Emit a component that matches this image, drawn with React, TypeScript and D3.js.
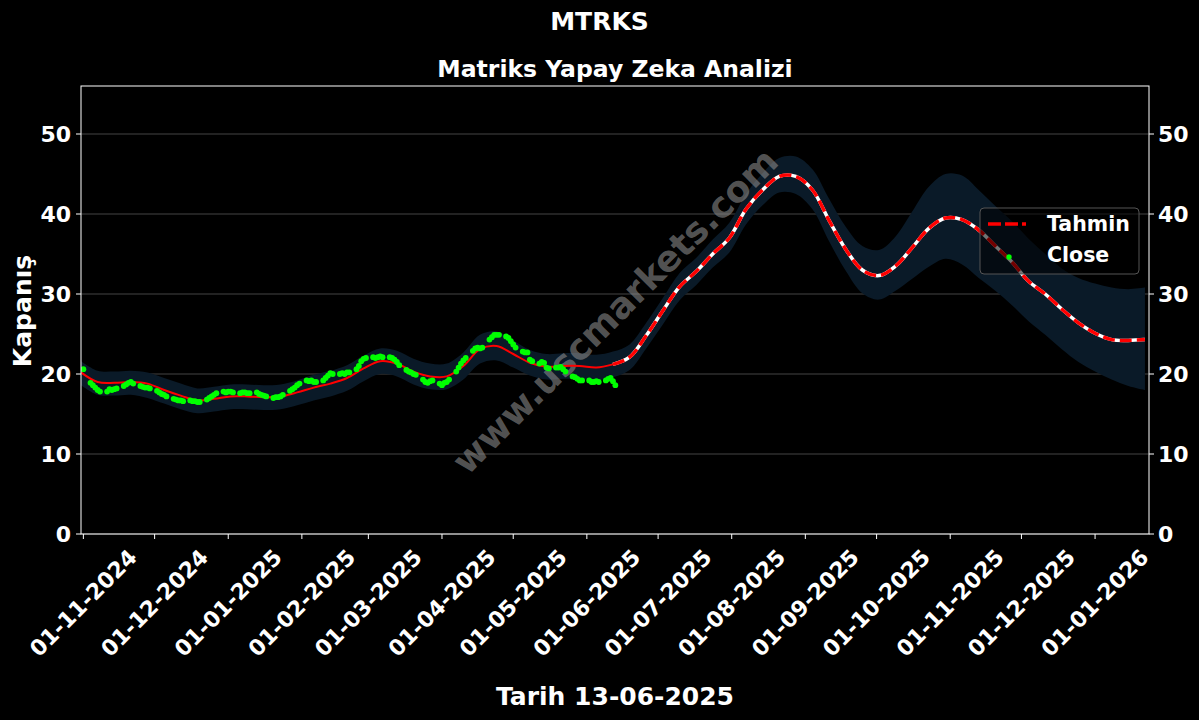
import React from "react";
import * as d3 from "d3";

const W = 1199, H = 720;
const M = { left: 81, right: 1149, top: 86, bottom: 534 };

const title = "MTRKS";
const subtitle = "Matriks Yapay Zeka Analizi";
const xLabel = "Tarih 13-06-2025";
const yLabel = "Kapanış";
const watermark = "www.uscmarkets.com";
const yTicks = [0, 10, 20, 30, 40, 50];

// Close (weekday series from 01-11-2024 to 13-06-2025)
const closeStart = new Date(2024, 10, 1);
const closeEnd = new Date(2025, 5, 13);
const closeVals = [
  20.6, 18.9, 18.6, 18.3, 18.0, 17.8, 17.8, 18.1, 18.0, 18.1, 18.2, 18.5, 18.7, 18.9, 19.0, 18.8, 18.5, 18.4, 18.3, 18.3, 18.2,
  17.9, 17.7, 17.5, 17.4, 17.2, 16.9, 16.8, 16.7, 16.7, 16.6, 16.7, 16.6, 16.6, 16.5, 16.5, 16.8, 17.0, 17.2, 17.4, 17.6, 17.8, 17.7,
  17.8, 17.8, 17.7, 17.6, 17.7, 17.7, 17.6, 17.6, 17.7, 17.5, 17.4, 17.3, 17.2, 17.0, 17.1, 17.1, 17.2, 17.4, 17.9, 18.1, 18.3, 18.6, 18.8,
  19.2, 19.1, 19.2, 19.0, 19.0, 19.2, 19.5, 19.8, 20.1, 20.0, 20.0, 20.1, 20.0, 20.2, 20.2, 20.6, 21.0, 21.6, 21.9, 22.0,
  22.1, 22.0, 22.1, 22.2, 22.1, 22.1, 22.0, 21.8, 21.5, 21.1, 20.5, 20.3, 20.2, 20.0, 19.9, 19.3, 19.0, 18.9, 19.1, 19.2, 18.8,
  18.6, 18.9, 19.0, 19.3, 20.3, 20.8, 21.3, 21.7, 22.0, 22.9, 23.2, 23.3, 23.2, 23.3, 24.3, 24.6, 24.9, 24.9, 24.9, 24.7, 24.5, 24.1,
  23.7, 23.3, 22.8, 22.7, 22.7, 21.8, 21.6, 21.3, 21.5, 21.4, 20.8, 20.7, 20.8, 20.8, 20.9, 20.6, 20.3, 19.7, 19.6, 19.4, 19.2, 19.2,
  19.2, 19.0, 19.0, 19.1, 19.0, 19.2, 19.4, 19.5, 19.1, 18.6,
];

// Tahmin (weekly points from 31-10-2024)
const predStart = new Date(2024, 9, 31);
const predStepDays = 7;
const forecastFromIndex = 32;
const predVals = [
  20.2, 19.0, 18.9, 19.0, 18.8, 18.0, 17.3, 16.7, 16.9, 17.2, 17.2, 17.1, 17.2, 17.7, 18.3, 18.8,
  19.5, 20.7, 21.6, 21.3, 20.3, 19.7, 19.7, 21.0, 23.1, 23.5, 22.5, 21.4, 20.9, 21.0, 21.0, 20.8,
  21.2, 22.1, 24.8, 27.9, 30.9, 32.8, 35.0, 37.0, 40.6, 43.0, 44.7, 44.7, 43.0, 39.2, 35.6, 33.0,
  32.3, 33.5, 35.8, 38.2, 39.5, 39.3, 38.0, 36.0, 34.0, 31.6, 30.0, 28.1, 26.4, 25.1, 24.3, 24.2, 24.3,
];
const upperVals = [
  21.6, 20.4, 20.3, 20.4, 20.2, 19.5, 18.8, 18.2, 18.4, 18.7, 18.7, 18.6, 18.7, 19.2, 19.9, 20.4,
  21.1, 22.3, 23.2, 22.9, 21.9, 21.3, 21.3, 22.7, 24.9, 25.3, 24.2, 23.0, 22.5, 22.6, 22.6, 22.4,
  22.8, 23.7, 26.4, 29.5, 32.6, 34.5, 36.8, 38.9, 42.5, 45.1, 47.0, 47.2, 45.6, 41.9, 38.4, 36.0,
  35.5, 37.2, 40.3, 43.4, 45.0, 44.8, 43.0, 41.0, 39.1, 36.9, 35.0, 33.2, 32.0, 31.3, 30.8, 30.6, 30.8,
];
const lowerVals = [
  18.6, 17.4, 17.3, 17.4, 17.0, 16.3, 15.6, 15.1, 15.3, 15.6, 15.6, 15.5, 15.6, 16.1, 16.7, 17.2,
  17.9, 19.1, 20.0, 19.7, 18.7, 18.1, 18.1, 19.3, 21.3, 21.7, 20.8, 19.8, 19.3, 19.4, 19.4, 19.2,
  19.6, 20.5, 23.2, 26.2, 29.2, 31.1, 33.3, 35.2, 38.7, 41.1, 42.7, 42.5, 40.6, 36.6, 32.9, 30.1,
  29.3, 30.4, 31.9, 33.4, 34.4, 33.7, 32.0, 30.4, 28.6, 26.6, 24.9, 23.1, 21.5, 20.3, 19.3, 18.5, 18.0,
];

const xDomain = [new Date(2024, 9, 31), new Date(2026, 0, 23, 17)];

const fmtTick = d3.timeFormat("%d-%m-%Y");

export default function App() {
  const x = d3.scaleTime().domain(xDomain).range([M.left, M.right]);
  const y = d3.scaleLinear().domain([0, 56]).range([M.bottom, M.top]);

  const closeDates = d3.timeDay
    .range(closeStart, d3.timeDay.offset(closeEnd, 1))
    .filter((d) => d.getDay() !== 0 && d.getDay() !== 6);
  const closePts = closeDates.slice(0, closeVals.length).map((d, i) => ({ d, v: closeVals[i] }));

  const pred = predVals.map((v, i) => ({
    d: d3.timeDay.offset(predStart, i * predStepDays),
    v,
    u: upperVals[i],
    l: lowerVals[i],
  }));

  const line = d3
    .line<any>()
    .x((p) => x(p.d))
    .y((p) => y(p.v))
    .curve(d3.curveCatmullRom);
  const area = d3
    .area<any>()
    .x((p) => x(p.d))
    .y0((p) => y(p.l))
    .y1((p) => y(p.u))
    .curve(d3.curveCatmullRom);

  const hist = pred.slice(0, forecastFromIndex + 1);
  const fut = pred.slice(forecastFromIndex);

  const monthTicks = d3.timeMonth.range(new Date(2024, 10, 1), new Date(2026, 0, 2));

  const font = "'DejaVu Sans', sans-serif";
  const wmX = 615, wmY = 311;

  return (
    <svg
      width={W}
      height={H}
      style={{ position: "absolute", left: 0, top: 0, background: "#000" }}
      fontFamily={font}
      fontWeight="bold"
    >
      <rect x={0} y={0} width={W} height={H} fill="#000" />
      <defs>
        <clipPath id="plot">
          <rect x={M.left} y={M.top} width={M.right - M.left} height={M.bottom - M.top} />
        </clipPath>
      </defs>

      {/* grid */}
      {yTicks.map((t) => (
        <line key={"g" + t} x1={M.left} x2={M.right} y1={y(t)} y2={y(t)} stroke="#555" strokeWidth={0.8} />
      ))}

      <g clipPath="url(#plot)">
        <path d={area(pred) || ""} fill="#0a1a28" />
        <text
          x={wmX}
          y={wmY}
          transform={`rotate(-45 ${wmX} ${wmY})`}
          textAnchor="middle"
          dominantBaseline="central"
          fontSize={36}
          fill="#8a8a8a"
          fillOpacity={0.62}
        >
          {watermark}
        </text>
        <path d={line(hist) || ""} fill="none" stroke="#ff0000" strokeWidth={2} />
        <path d={line(fut) || ""} fill="none" stroke="#ffffff" strokeWidth={3.5} />
        <path d={line(fut) || ""} fill="none" stroke="#ff0000" strokeWidth={3.5} strokeDasharray="12 5" />
        {closePts.map((p, i) => (
          <circle key={i} cx={x(p.d)} cy={y(p.v)} r={2.9} fill="#00ff00" />
        ))}
      </g>

      {/* frame */}
      <rect
        x={M.left}
        y={M.top}
        width={M.right - M.left}
        height={M.bottom - M.top}
        fill="none"
        stroke="#fff"
        strokeWidth={1}
      />

      {/* y ticks both sides */}
      {yTicks.map((t) => (
        <g key={"y" + t}>
          <line x1={M.left - 5} x2={M.left} y1={y(t)} y2={y(t)} stroke="#fff" />
          <text x={M.left - 10} y={y(t)} textAnchor="end" dominantBaseline="central" fontSize={22} fill="#fff">
            {t}
          </text>
          <line x1={M.right} x2={M.right + 5} y1={y(t)} y2={y(t)} stroke="#fff" />
          <text x={M.right + 9} y={y(t)} textAnchor="start" dominantBaseline="central" fontSize={22} fill="#fff">
            {t}
          </text>
        </g>
      ))}

      {/* x ticks */}
      {monthTicks.map((d) => {
        const tx = x(d);
        const cy = 603;
        return (
          <g key={"x" + d.getTime()}>
            <line x1={tx} x2={tx} y1={M.bottom} y2={M.bottom + 5} stroke="#fff" />
            <text
              x={tx}
              y={cy}
              transform={`rotate(-45 ${tx} ${cy})`}
              textAnchor="middle"
              dominantBaseline="central"
              fontSize={22}
              fill="#fff"
            >
              {fmtTick(d)}
            </text>
          </g>
        );
      })}

      {/* titles */}
      <text x={599.5} y={21} textAnchor="middle" dominantBaseline="central" fontSize={25} fill="#fff">
        {title}
      </text>
      <text x={615} y={69} textAnchor="middle" dominantBaseline="central" fontSize={23.5} fill="#fff">
        {subtitle}
      </text>
      <text x={615} y={696} textAnchor="middle" dominantBaseline="central" fontSize={25} fill="#fff">
        {xLabel}
      </text>
      <text
        x={22}
        y={311}
        transform="rotate(-90 22 311)"
        textAnchor="middle"
        dominantBaseline="central"
        fontSize={25}
        fill="#fff"
      >
        {yLabel}
      </text>

      {/* legend */}
      <g>
        <rect x={980} y={208} width={159} height={66} rx={4} fill="#000" fillOpacity={0.55} stroke="#555" strokeWidth={1} />
        <line x1={988} x2={1026} y1={224} y2={224} stroke="#ff0000" strokeWidth={3.5} strokeDasharray="13 4" />
        <text x={1047} y={224} dominantBaseline="central" fontSize={20.5} fill="#fff">
          Tahmin
        </text>
        <circle cx={1009} cy={257} r={2.7} fill="#00ff00" />
        <text x={1047} y={255} dominantBaseline="central" fontSize={20.5} fill="#fff">
          Close
        </text>
      </g>
    </svg>
  );
}
